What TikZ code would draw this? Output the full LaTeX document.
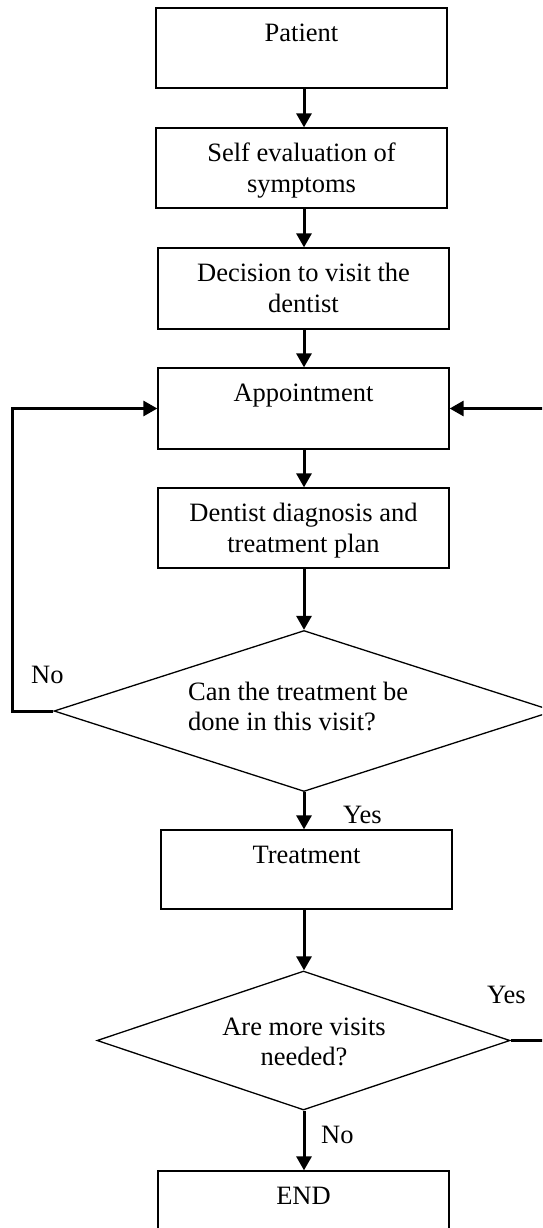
\documentclass[tikz,border=0pt]{standalone}
\usepackage{fontspec}
\setmainfont{Liberation Serif}
\usetikzlibrary{arrows.meta,shapes.geometric}
\begin{document}
\begin{tikzpicture}[x=1pt,y=-1pt,
  box/.style={draw, line width=1.3pt, rectangle, minimum width=291pt, minimum height=#1, inner sep=0pt},
  box/.default=80pt,
  decision/.style={draw, line width=1.3pt, diamond, inner sep=0pt},
  txt/.style={font=\fontsize{26.5}{30.5}\selectfont, inner sep=0pt},
  boxtext/.style={txt, align=center, anchor=north},
  conn/.style={line width=3pt, -{Triangle[length=14pt,width=15pt]}},
]
\useasboundingbox (0,0) rectangle (542,1228);
\clip (0,0) rectangle (542,1228);
\fill[white] (0,0) rectangle (542,1228);

% process boxes
\node[box] (patient) at (301.5,48) {};
\node[box] (self) at (301.5,168) {};
\node[box=81pt] (decide) at (303.5,288.5) {};
\node[box=81pt] (appt) at (303.5,408.5) {};
\node[box] (diag) at (303.5,528) {};
\node[box=79pt] (treat) at (306.5,869.5) {};
\node[box] (finish) at (303.5,1211) {};

% decisions
\node[decision, minimum width=500pt, minimum height=161pt] (d1) at (304,711) {};
\node[decision, minimum width=413pt, minimum height=139pt] (d2) at (303.5,1040.5) {};

% box texts, set near the top of each box
\node[boxtext] (tpatient) at ([yshift=-12.65pt]patient.north) {\strut Patient};
\node[boxtext] (tself) at ([yshift=-12.65pt]self.north) {\strut Self evaluation of\\ symptoms};
\node[boxtext] (tdecide) at ([yshift=-12.65pt]decide.north) {\strut Decision to visit the\\ dentist};
\node[boxtext] (tappt) at ([yshift=-12.65pt]appt.north) {\strut Appointment};
\node[boxtext] (tdiag) at ([yshift=-12.65pt]diag.north) {\strut Dentist diagnosis and\\ treatment plan};
\node[boxtext] (ttreat) at ([yshift=-12.65pt]treat.north) {\strut Treatment};
\node[boxtext] (tfinish) at ([yshift=-12.65pt]finish.north) {\strut END};

% decision texts
\node[txt, align=left, anchor=north west] (td1) at (188,678.65) {\strut Can the treatment be\\ done in this visit?};
\node[txt, align=center, anchor=north] (td2) at (304,1013.65) {\strut Are more visits\\ needed?};

% branch labels
\node[txt, anchor=base west] (no1) at (31,683) {No};
\node[txt, anchor=base west] (yes1) at (343,823) {Yes};
\node[txt, anchor=base west] (yes2) at (487,1003) {Yes};
\node[txt, anchor=base west] (no2) at (321,1143) {No};

% main flow
\coordinate (spine) at (304,0);
\draw[conn] (patient.south -| spine) -- (self.north -| spine);
\draw[conn] (self.south -| spine) -- (decide.north -| spine);
\draw[conn] (decide.south -| spine) -- (appt.north -| spine);
\draw[conn] (appt.south -| spine) -- (diag.north -| spine);
\draw[conn] (diag.south -| spine) -- (d1.north);
\draw[conn] (d1.south) -- (treat.north -| spine);
\draw[conn] (treat.south -| spine) -- (d2.north -| spine);
\draw[conn] (d2.south -| spine) -- (finish.north -| spine);

% loops back to the appointment
\draw[conn] (d1.west) -- ++(-41,0) |- (appt.west);
\draw[conn] (d2.east) -- ++(45,0) |- (appt.east);
\end{tikzpicture}
\end{document}
